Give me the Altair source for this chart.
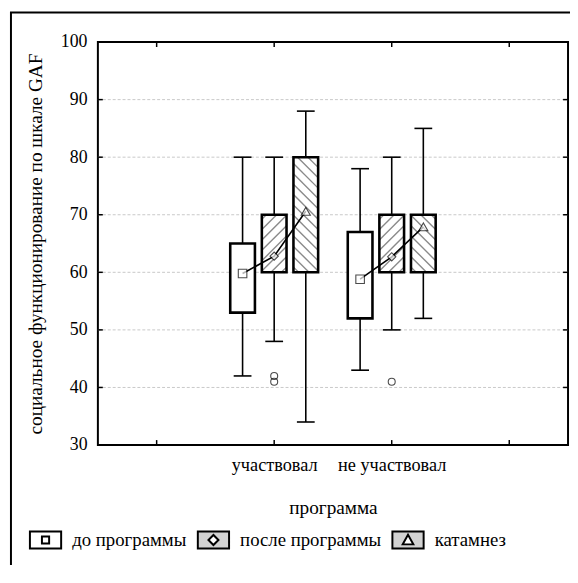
import altair as alt
import pandas as pd

# ---------------- data ----------------
groups = ["участвовал", "не участвовал"]
series = ["до программы", "после программы", "катамнез"]

whisker_low = {"до программы": [42, 43], "после программы": [48, 50], "катамнез": [34, 52]}
box_q1 = {"до программы": [53, 52], "после программы": [60, 60], "катамнез": [60, 60]}
box_q3 = {"до программы": [65, 67], "после программы": [70, 70], "катамнез": [80, 70]}
whisker_high = {"до программы": [80, 78], "после программы": [80, 80], "катамнез": [88, 85]}
means = {"до программы": [59.8, 58.8], "после программы": [62.8, 62.7], "катамнез": [70.6, 67.9]}

outlier_group = ["участвовал", "участвовал", "не участвовал"]
outlier_series = ["после программы", "после программы", "после программы"]
outlier_value = [42, 41, 41]

y_ticks = [30, 40, 50, 60, 70, 80, 90, 100]
x_tick_pos = [0.5, 1.5, 2.5, 3.5]

# ---------------- layout constants ----------------
W, H = 476, 408
XMIN, XMAX, YMIN, YMAX = 0, 4, 30, 100
PX = W / (XMAX - XMIN)
PY = H / (YMAX - YMIN)
OFF = 32 / PX
BW = 25 / PX
CAP = 18 / PX
FONT = "'Liberation Serif', 'Times New Roman', serif"

rows = []
for gi, g in enumerate(groups):
    for si, s in enumerate(series):
        xc = gi + 1.5 + (si - 1) * OFF
        rows.append(dict(group=g, series=s, xc=xc, xl=xc - BW / 2, xr=xc + BW / 2,
                         cl=xc - CAP / 2, cr=xc + CAP / 2,
                         lo=whisker_low[s][gi], q1=box_q1[s][gi], q3=box_q3[s][gi],
                         hi=whisker_high[s][gi], mean=means[s][gi]))
boxes = pd.DataFrame(rows)

out_rows = []
for g, s, v in zip(outlier_group, outlier_series, outlier_value):
    r = boxes[(boxes.group == g) & (boxes.series == s)].iloc[0]
    out_rows.append(dict(group=g, series=s, xc=r.xc, value=v))
outliers = pd.DataFrame(out_rows)


# hatch segments derived from box extents
def hatch(xl, xr, ylo, yhi, fwd, spacing):
    wp = (xr - xl) * PX
    hp = (yhi - ylo) * PY
    segs = []
    if fwd:
        c = -wp + spacing / 2
        while c < hp:
            u0, u1 = max(0, -c), min(wp, hp - c)
            if u1 > u0:
                segs.append((u0, u0 + c, u1, u1 + c))
            c += spacing
    else:
        c = spacing / 2
        while c < hp + wp:
            u0, u1 = max(0, c - hp), min(wp, c)
            if u1 > u0:
                segs.append((u0, c - u0, u1, c - u1))
            c += spacing
    return [dict(x1=xl + a / PX, y1=ylo + b / PY, x2=xl + cc / PX, y2=ylo + d / PY)
            for a, b, cc, d in segs]


hrows = []
for _, r in boxes.iterrows():
    if r.series == "после программы":
        hrows += hatch(r.xl, r.xr, r.q1, r.q3, True, 10.5)
    elif r.series == "катамнез":
        hrows += hatch(r.xl, r.xr, r.q1, r.q3, False, 10.5)
hatches = pd.DataFrame(hrows)

ygrid = pd.DataFrame({"v": [t for t in y_ticks if YMIN < t < YMAX]})
xticks = pd.DataFrame({"p": x_tick_pos})
one = pd.DataFrame({"k": [0]})

XT = "программа"
YT = "социальное функционирование по шкале GAF"

xscale = alt.Scale(domain=[XMIN, XMAX], nice=False, zero=False)
yscale = alt.Scale(domain=[YMIN, YMAX], nice=False, zero=False)

label_expr = ("datum.value == 1.5 ? '%s' : (datum.value == 2.5 ? '%s' : '')"
              % (groups[0], groups[1]))
xaxis = alt.Axis(values=[1.5, 2.5], labelExpr=label_expr, ticks=False, tickSize=0,
                 domain=False, grid=False, labelFontSize=18.5, labelFont=FONT,
                 labelColor="black", labelPadding=20, labelBaseline="middle",
                 labelOverlap=False, labelFlush=False,
                 titleFontSize=19.5, titleFont=FONT, titleFontWeight="normal",
                 titleColor="black", titleY=63, titleBaseline="middle")
yaxis = alt.Axis(values=y_ticks, ticks=False, tickSize=0, domain=False, grid=False,
                 labelFontSize=18, labelFont=FONT, labelColor="black", labelPadding=11,
                 titleFontSize=19.5, titleFont=FONT, titleFontWeight="normal",
                 titleColor="black", titleAngle=270, titleX=-57, titleY=H / 2,
                 titleAlign="center", titleBaseline="alphabetic")


def X(f):
    return alt.X(f, type="quantitative", scale=xscale, axis=xaxis, title=XT)


def Y(f):
    return alt.Y(f, type="quantitative", scale=yscale, axis=yaxis, title=YT)


# outer frame (left + top)
frame_left = alt.Chart(one).mark_rule(color="black", strokeWidth=2).encode(
    x=alt.value(-88), y=alt.value(-30), y2=alt.value(560))
frame_top = alt.Chart(one).mark_rule(color="black", strokeWidth=2).encode(
    x=alt.value(-89), x2=alt.value(482), y=alt.value(-30))

grid = alt.Chart(ygrid).mark_rule(color="#c8c8c8", strokeWidth=1, strokeDash=[3, 2]).encode(
    y=Y("v"), x=alt.value(0), x2=alt.value(W))

yt_left = alt.Chart(ygrid).mark_rule(color="black", strokeWidth=1.5).encode(
    y=Y("v"), x=alt.value(0), x2=alt.value(5))
yt_right = alt.Chart(ygrid).mark_rule(color="black", strokeWidth=1.5).encode(
    y=Y("v"), x=alt.value(W - 5), x2=alt.value(W))
xt_bot = alt.Chart(xticks).mark_rule(color="black", strokeWidth=1.5).encode(
    x=X("p"), y=alt.value(H - 5), y2=alt.value(H))
xt_top = alt.Chart(xticks).mark_rule(color="black", strokeWidth=1.5).encode(
    x=X("p"), y=alt.value(0), y2=alt.value(5))

base = alt.Chart(boxes)
whisk = base.mark_rule(color="black", strokeWidth=1.6).encode(x=X("xc"), y=Y("lo"), y2="hi")
cap_lo = base.mark_rule(color="black", strokeWidth=1.6).encode(x=X("cl"), x2="cr", y=Y("lo"))
cap_hi = base.mark_rule(color="black", strokeWidth=1.6).encode(x=X("cl"), x2="cr", y=Y("hi"))
box_fill = base.mark_rect(fill="white", strokeWidth=0).encode(x=X("xl"), x2="xr", y=Y("q1"), y2="q3")
hatch_l = alt.Chart(hatches).mark_rule(color="#8a8a8a", strokeWidth=1.4).encode(
    x=X("x1"), x2="x2", y=Y("y1"), y2="y2")
box_line = base.mark_rect(fillOpacity=0, stroke="black", strokeWidth=2.6).encode(
    x=X("xl"), x2="xr", y=Y("q1"), y2="q3")
mean_line = base.mark_line(color="black", strokeWidth=1.6).encode(
    x=X("xc"), y=Y("mean"), detail="group:N", order="xc:Q")

shapes = {"до программы": "square", "после программы": "diamond", "катамнез": "triangle-up"}
sizes = {"до программы": 75, "после программы": 70, "катамнез": 85}
mean_pts = [
    base.transform_filter(alt.datum.series == s).mark_point(
        shape=shapes[s], size=sizes[s], filled=True, fill="white", stroke="black", strokeWidth=1.1
    ).encode(x=X("xc"), y=Y("mean"))
    for s in series
]

outl = alt.Chart(outliers).mark_point(shape="circle", size=50, filled=False,
                                      color="black", strokeWidth=1.1).encode(
    x=X("xc"), y=Y("value"))

# legend carrier (invisible on plot)
sym_paths = [
    "M-1,-0.55H1V0.55H-1Z M-0.23,-0.23V0.23H0.23V-0.23Z",
    "M-1,-0.55H1V0.55H-1Z M0,-0.32L-0.32,0L0,0.32L0.32,0Z",
    "M-1,-0.55H1V0.55H-1Z M0,-0.34L-0.34,0.28L0.34,0.28Z",
]
legend = alt.Legend(title=None, orient="none", legendX=-70, legendY=487, direction="horizontal",
                    symbolSize=1000, symbolStrokeWidth=2, symbolStrokeColor="black",
                    symbolOpacity=1, labelFontSize=19, labelFont=FONT, labelColor="black",
                    labelOffset=10, columnPadding=7, labelLimit=400)
leg = base.mark_point(filled=True, strokeWidth=2, opacity=0, size=1).encode(
    x=X("xc"), y=Y("mean"),
    shape=alt.Shape("series:N", scale=alt.Scale(domain=series, range=sym_paths), legend=legend),
    fill=alt.Fill("series:N", scale=alt.Scale(domain=series, range=["white", "#d2d2d2", "#d2d2d2"]),
                  legend=legend),
    stroke=alt.Stroke("series:N", scale=alt.Scale(domain=series, range=["black", "black", "black"]),
                      legend=legend),
)

chart = alt.layer(
    frame_left, frame_top, grid, whisk, cap_lo, cap_hi, box_fill, hatch_l, box_line,
    mean_line, *mean_pts, outl, yt_left, yt_right, xt_bot, xt_top, leg
).properties(
    width=W, height=H,
    autosize=alt.AutoSizeParams(type="none"),
    padding={"left": 91, "top": 31, "right": 2, "bottom": 118},
).configure(
    font=FONT, background="white",
    view=alt.ViewConfig(stroke="black", strokeWidth=2),
)

chart.save("out.html", embed_options={"renderer": "svg", "actions": False})
